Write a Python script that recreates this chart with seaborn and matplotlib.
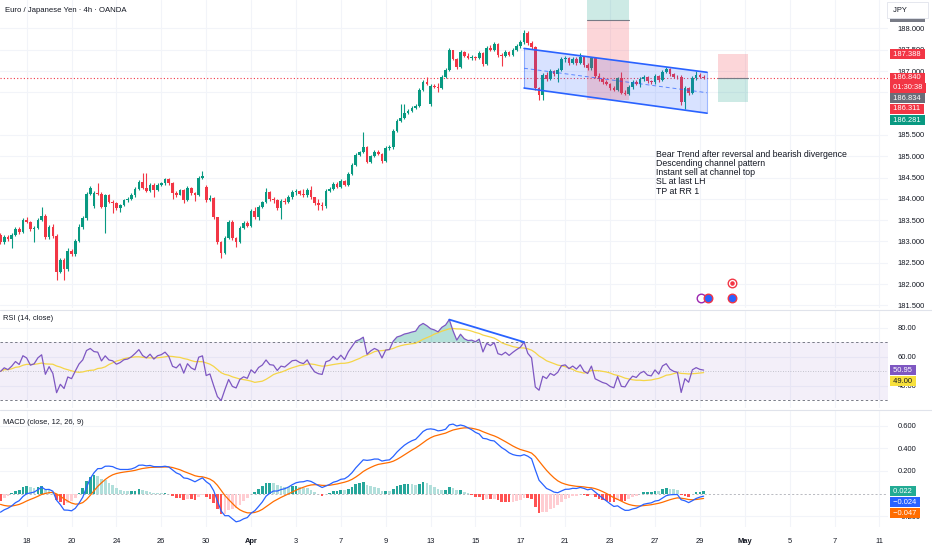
import matplotlib
matplotlib.use('Agg')
import matplotlib.pyplot as plt
import matplotlib.patches as mpatches
import seaborn as sns
import pandas as pd
import numpy as np

# ---- data (4h candles) ----
closes = [182.99, 183.10, 183.05, 183.15, 183.29, 183.22, 183.50, 183.45, 183.28, 183.32, 183.50, 183.60,
          183.10, 183.34, 183.13, 182.29, 182.57, 182.35, 182.78, 182.70, 183.01, 183.34, 183.55, 184.11,
          184.25, 184.14, 184.12, 183.81, 184.08, 183.93, 183.90, 183.78, 183.85, 183.97, 184.00, 184.09,
          184.23, 184.40, 184.25, 184.19, 184.33, 184.21, 184.33, 184.37, 184.46, 184.37, 184.14, 184.10,
          184.21, 183.98, 184.25, 184.14, 184.09, 184.49, 184.54, 183.97, 184.02, 183.57, 182.99, 182.73,
          183.08, 183.46, 183.08, 182.99, 183.32, 183.43, 183.36, 183.71, 183.57, 183.81, 183.92, 184.16,
          183.99, 183.97, 183.78, 183.95, 183.92, 184.04, 184.16, 184.18, 184.12, 184.09, 184.21, 184.04,
          183.90, 183.85, 183.83, 184.18, 184.22, 184.35, 184.28, 184.42, 184.33, 184.58, 184.79, 185.03,
          185.10, 185.22, 184.86, 185.00, 185.10, 185.06, 184.89, 185.19, 185.21, 185.59, 185.83, 185.90,
          186.01, 186.06, 186.13, 186.18, 186.55, 186.74, 186.70, 186.65, 186.63, 186.60, 186.86, 187.02,
          187.49, 187.28, 187.09, 187.45, 187.35, 187.31, 187.33, 187.30, 187.42, 187.16, 187.54, 187.49,
          187.63, 187.38, 187.35, 187.45, 187.38, 187.49, 187.59, 187.68, 187.89, 187.66, 187.56, 186.60,
          186.44, 186.91, 186.81, 187.00, 186.92, 187.03, 187.28, 187.31, 187.19, 187.28, 187.19, 187.33,
          187.14, 187.07, 187.30, 186.88, 186.81, 186.74, 186.70, 186.60, 186.55, 186.83, 186.48, 186.46,
          186.62, 186.74, 186.70, 186.81, 186.86, 186.76, 186.74, 186.88, 186.78, 186.98, 187.04, 186.92,
          186.87, 186.85, 186.27, 186.60, 186.48, 186.84, 186.91, 186.86, 186.84]

highs = [183.20, 183.14, 183.15, 183.19, 183.33, 183.33, 183.55, 183.58, 183.47, 183.36, 183.54, 183.81,
         183.64, 183.38, 183.40, 183.18, 182.62, 182.62, 182.85, 182.82, 183.05, 183.40, 183.60, 184.15,
         184.30, 184.18, 184.37, 184.16, 184.12, 184.12, 183.97, 183.93, 183.88, 184.00, 184.05, 184.13,
         184.27, 184.45, 184.60, 184.60, 184.36, 184.36, 184.36, 184.40, 184.50, 184.50, 184.40, 184.18,
         184.24, 184.22, 184.29, 184.28, 184.17, 184.53, 184.65, 184.32, 184.10, 184.04, 183.57, 183.00,
         183.12, 183.50, 183.50, 183.10, 183.36, 183.48, 183.48, 183.76, 183.80, 183.86, 183.96, 184.26,
         184.18, 184.04, 183.99, 184.00, 184.02, 184.08, 184.20, 184.24, 184.20, 184.23, 184.26, 184.30,
         184.05, 184.00, 183.92, 184.22, 184.27, 184.40, 184.40, 184.46, 184.45, 184.62, 184.83, 185.07,
         185.13, 185.57, 185.25, 185.04, 185.14, 185.15, 185.08, 185.23, 185.26, 185.63, 185.87, 186.23,
         186.23, 186.10, 186.17, 186.22, 186.59, 186.79, 186.86, 186.70, 186.70, 186.72, 186.90, 187.06,
         187.53, 187.50, 187.30, 187.49, 187.47, 187.42, 187.38, 187.36, 187.46, 187.45, 187.58, 187.60,
         187.67, 187.66, 187.43, 187.49, 187.47, 187.53, 187.63, 187.72, 187.96, 187.93, 187.70, 187.58,
         186.62, 186.95, 186.97, 187.04, 187.02, 187.07, 187.32, 187.36, 187.34, 187.32, 187.33, 187.42,
         187.34, 187.18, 187.34, 187.32, 186.95, 186.85, 186.78, 186.72, 186.64, 186.87, 186.97, 186.55,
         186.66, 186.78, 186.78, 186.85, 186.90, 186.88, 186.80, 186.92, 186.90, 187.02, 187.10, 187.08,
         186.95, 186.90, 186.90, 186.64, 186.62, 186.88, 187.00, 186.95, 186.90]

lows = [182.94, 182.93, 183.00, 182.84, 183.12, 183.18, 183.20, 183.43, 183.25, 182.99, 183.28, 183.48,
        183.06, 183.06, 183.08, 182.10, 182.25, 182.09, 182.30, 182.66, 182.65, 182.98, 183.30, 183.50,
        184.08, 183.78, 184.08, 183.78, 183.20, 183.90, 183.67, 183.74, 183.70, 183.83, 183.93, 183.97,
        184.05, 184.20, 184.22, 184.16, 184.16, 184.04, 184.18, 184.30, 184.33, 184.33, 183.99, 184.05,
        184.08, 183.90, 183.95, 184.10, 183.95, 184.06, 184.47, 183.93, 183.95, 183.53, 182.95, 182.61,
        182.70, 183.05, 183.04, 182.87, 182.96, 183.30, 183.33, 183.34, 183.52, 183.50, 183.78, 183.90,
        183.95, 183.90, 183.74, 183.53, 183.89, 183.90, 184.00, 184.10, 184.08, 184.05, 184.05, 184.00,
        183.86, 183.74, 183.74, 183.78, 184.15, 184.20, 184.25, 184.26, 184.30, 184.30, 184.55, 184.76,
        185.00, 185.08, 184.83, 184.85, 184.97, 185.02, 184.85, 184.86, 185.15, 185.17, 185.57, 185.80,
        185.88, 185.99, 186.04, 186.10, 186.16, 186.52, 186.66, 186.18, 186.60, 186.51, 186.58, 186.84,
        187.00, 187.25, 187.05, 187.07, 187.32, 187.28, 187.27, 187.26, 187.28, 187.12, 187.14, 187.46,
        187.47, 187.34, 187.12, 187.33, 187.35, 187.36, 187.46, 187.53, 187.64, 187.62, 187.52, 186.55,
        186.32, 186.32, 186.77, 186.79, 186.88, 186.74, 187.00, 187.22, 187.15, 187.16, 187.15, 187.17,
        187.10, 187.03, 187.03, 186.84, 186.77, 186.70, 186.66, 186.56, 186.52, 186.53, 186.45, 186.43,
        186.44, 186.58, 186.66, 186.62, 186.76, 186.72, 186.70, 186.70, 186.74, 186.76, 186.95, 186.88,
        186.83, 186.82, 186.20, 186.11, 186.44, 186.45, 186.80, 186.83, 186.81]

first_open = 183.15
gap_opens = {25: 183.83, 55: 184.28, 115: 186.22}   # weekend gaps

# indicator state at the left edge
rsi_seed_move = 0.08        # avg gain = avg loss -> RSI ~50 at first bar
macd_seed = -0.165
signal_seed = -0.096

date_labels = ['18', '20', '24', '26', '30', 'Apr', '3', '7', '9', '13', '15', '17',
               '21', '23', '27', '29', 'May', '5', '7', '11']
first_label_bar = 7
bars_per_label = 12

price_ticks = [181.5, 182.0, 182.5, 183.0, 183.5, 184.0, 184.5, 185.0, 185.5, 187.0, 187.5, 188.0]
rsi_ticks = [40, 60, 80]
macd_ticks = [-0.2, 0.2, 0.4, 0.6]

# drawings
channel_bars = [140.0, 188.9]
channel_upper = [187.53, 186.97]
channel_lower = [186.60, 186.01]
old_box_bars = [156.8, 168.0]
old_box = [189.5, 188.20, 186.32]          # target top, entry, stop
new_box_bars = [191.8, 199.9]
new_box = [187.388, 186.834, 186.281]      # stop, entry, target
last_price = 186.84
div_bars = [120, 140]

note = ("Bear Trend after reversal and bearish divergence\nDescending channel pattern\n"
        "Instant sell at channel top\nSL at last LH\nTP at RR 1")

# ---- indicators ----
df = pd.DataFrame({'close': closes, 'high': highs, 'low': lows})
df['bar'] = np.arange(len(df))
df['open'] = df['close'].shift(1)
df.loc[0, 'open'] = first_open
for k, v in gap_opens.items():
    df.loc[k, 'open'] = v
df['high'] = df[['high', 'open', 'close']].max(axis=1)
df['low'] = df[['low', 'open', 'close']].min(axis=1)


def ema(values, alpha, start):
    out = [start]
    for v in values[1:]:
        out.append(out[-1] + alpha * (v - out[-1]))
    return np.array(out)


delta = df['close'].diff().fillna(0).to_numpy()
ag = ema(np.clip(delta, 0, None), 1 / 14, rsi_seed_move)
al = ema(np.clip(-delta, 0, None), 1 / 14, rsi_seed_move)
df['rsi'] = 100 - 100 / (1 + ag / al)
df['rsi_ma'] = df['rsi'].rolling(14, min_periods=1).mean()

c = df['close'].to_numpy()
ema12 = ema(c, 2 / 13, c[0])
ema26 = ema(c, 2 / 27, c[0] - macd_seed)
df['macd'] = ema12 - ema26
df['signal'] = ema(df['macd'].to_numpy(), 2 / 10, signal_seed)
df['hist'] = df['macd'] - df['signal']

# ---- style ----
sns.set_style('white')
plt.rcParams['font.family'] = ['Liberation Sans', 'DejaVu Sans']
TXT = '#131722'
UP, DOWN = '#089981', '#F23645'
GRID = '#F2F4F9'
FS = 5.4

W, H = 932, 550
R = 888
fig = plt.figure(figsize=(W / 100, H / 100), dpi=100)


def pane(top, bottom):
    a = fig.add_axes([0, 1 - bottom / H, R / W, (bottom - top) / H])
    for s in a.spines.values():
        s.set_visible(False)
    a.set_xlim(-0.13, (R - 0.5) / 3.74)
    return a


ax = pane(0, 308)
ax_rsi = pane(311, 408)
ax_macd = pane(411, 527)

tick_pos = [first_label_bar + bars_per_label * k for k in range(len(date_labels))]
for a in (ax, ax_rsi, ax_macd):
    for t in tick_pos:
        a.axvline(t, color=GRID, lw=0.8, zorder=0)
    a.yaxis.tick_right()
    a.tick_params(axis='y', length=0, pad=7, labelsize=FS, labelcolor=TXT)
    a.set_xticks(tick_pos)
    a.tick_params(axis='x', length=0, labelbottom=False)

# ---- price pane ----
ax.set_ylim(181.437, 188.667)
ax.set_yticks(price_ticks)
ax.set_yticklabels([f'{v:.3f}' for v in price_ticks])
for v in price_ticks + [186.5]:
    ax.axhline(v, color=GRID, lw=0.8, zorder=0)

up = df['close'] >= df['open']
cols = np.where(up, UP, DOWN)
ax.vlines(df['bar'], df['low'], df['high'], colors=cols, lw=0.8, zorder=3)
body = (df['close'] - df['open']).abs().clip(lower=0.012)
ax.bar(df['bar'], body, bottom=df[['open', 'close']].min(axis=1), width=0.72,
       color=cols, linewidth=0, zorder=3)

ax.axhline(last_price, color=DOWN, ls=(0, (1, 2)), lw=0.8, zorder=2)

# channel
poly = [(channel_bars[0], channel_upper[0]), (channel_bars[1], channel_upper[1]),
        (channel_bars[1], channel_lower[1]), (channel_bars[0], channel_lower[0])]
ax.add_patch(mpatches.Polygon(poly, closed=True, fc='#2962FF', alpha=0.18, ec='none', zorder=4))
ax.plot(channel_bars, channel_upper, color='#2962FF', lw=1.2, zorder=5)
ax.plot(channel_bars, channel_lower, color='#2962FF', lw=1.2, zorder=5)
for i in (0, 1):
    ax.plot([channel_bars[i]] * 2, [channel_lower[i], channel_upper[i]],
            color='#2962FF', lw=0.8, alpha=0.45, zorder=5)
ax.plot(channel_bars, [(u + l) / 2 for u, l in zip(channel_upper, channel_lower)],
        color='#2962FF', lw=0.7, ls=(0, (4, 3)), alpha=0.7, zorder=5)

# position boxes
b0, b1 = old_box_bars
ax.add_patch(mpatches.Rectangle((b0, old_box[1]), b1 - b0, old_box[0] - old_box[1],
                                fc=UP, alpha=0.2, ec='none', zorder=4))
ax.add_patch(mpatches.Rectangle((b0, old_box[2]), b1 - b0, old_box[1] - old_box[2],
                                fc=DOWN, alpha=0.2, ec='none', zorder=4))
ax.plot(old_box_bars, [old_box[1]] * 2, color='#787B86', lw=0.8, zorder=5)
b0, b1 = new_box_bars
ax.add_patch(mpatches.Rectangle((b0, new_box[1]), b1 - b0, new_box[0] - new_box[1],
                                fc=DOWN, alpha=0.2, ec='none', zorder=4))
ax.add_patch(mpatches.Rectangle((b0, new_box[2]), b1 - b0, new_box[1] - new_box[2],
                                fc=UP, alpha=0.2, ec='none', zorder=4))
ax.plot(new_box_bars, [new_box[1]] * 2, color='#787B86', lw=0.8, zorder=5)

ax.text(175.3, 185.15, note, fontsize=6.35, color=TXT, va='top', ha='left', linespacing=1.03, zorder=6)

# event markers
ax.scatter([187.3], [181.67], s=38, facecolor='white', edgecolor='#9C27B0', lw=1.0, zorder=6)
ax.scatter([189.3, 195.6], [181.67, 181.67], s=38, facecolor='#2962FF', edgecolor=DOWN, lw=1.0, zorder=7)
ax.scatter([195.6], [182.02], s=38, facecolor='white', edgecolor=DOWN, lw=1.0, zorder=7)
ax.scatter([195.6], [182.02], s=5, facecolor=DOWN, zorder=8)

ax.text(5 / R, 1 - 10 / 308, 'Euro / Japanese Yen · 4h · OANDA', transform=ax.transAxes,
        fontsize=5.6, color=TXT, va='center')


def tag(a, value, text, fc, tc='white', dy=0):
    a.annotate(' ' + text + ' ', xy=(1, value), xycoords=a.get_yaxis_transform(),
               xytext=(2.5, -dy * 0.72), textcoords='offset points',
               ha='left', va='center', fontsize=FS, color=tc,
               bbox=dict(boxstyle='square,pad=0.2', fc=fc, ec='none'),
               annotation_clip=False, zorder=10)


tag(ax, 188.27, '188.201', '#787B86')
ax.annotate(' JPY        ', xy=(1, 188.43), xycoords=ax.get_yaxis_transform(),
            xytext=(2.5, 0), textcoords='offset points', ha='left', va='center',
            fontsize=FS, color=TXT, annotation_clip=False, zorder=11,
            bbox=dict(boxstyle='square,pad=0.55', fc='white', ec='#E0E3EB', lw=0.6))
tag(ax, new_box[0], '187.388', DOWN)
tag(ax, last_price, '186.840', DOWN)
tag(ax, last_price, '01:30:38', DOWN, dy=10)
tag(ax, new_box[1], '186.834', '#6A6D78', dy=20)
tag(ax, 186.311, '186.311', DOWN, dy=8.6)
tag(ax, new_box[2], '186.281', UP, dy=18.4)

# ---- RSI pane ----
ax_rsi.set_ylim(24.8, 91.7)
ax_rsi.set_yticks(rsi_ticks)
ax_rsi.set_yticklabels([f'{v:.2f}' for v in rsi_ticks])
for v in rsi_ticks:
    ax_rsi.axhline(v, color=GRID, lw=0.8, zorder=0)
ax_rsi.axhspan(30, 70, color='#7E57C2', alpha=0.09, lw=0, zorder=0)
ax_rsi.axhline(70, color='#787B86', ls=(0, (2.5, 2.5)), lw=0.7)
ax_rsi.axhline(30, color='#787B86', ls=(0, (2.5, 2.5)), lw=0.7)
ax_rsi.axhline(50, color='#787B86', ls=(0, (1, 2)), lw=0.6, alpha=0.5)
ax_rsi.fill_between(df['bar'], 70, df['rsi'], where=df['rsi'] > 70, interpolate=True,
                    color=UP, alpha=0.3, lw=0)
ax_rsi.fill_between(df['bar'], 30, df['rsi'], where=df['rsi'] < 30, interpolate=True,
                    color=DOWN, alpha=0.3, lw=0)
sns.lineplot(data=df, x='bar', y='rsi_ma', ax=ax_rsi, color='#F5D547', lw=0.9)
sns.lineplot(data=df, x='bar', y='rsi', ax=ax_rsi, color='#7E57C2', lw=0.9)
ax_rsi.plot(div_bars, [df['rsi'].iloc[div_bars[0] - 2:div_bars[0] + 3].max(), df['rsi'].iloc[div_bars[1]]],
            color='#2962FF', lw=1.3, zorder=5)
ax_rsi.set_xlabel('')
ax_rsi.set_ylabel('')
ax_rsi.text(3 / R, 1 - 8 / 97, 'RSI (14, close)', transform=ax_rsi.transAxes,
            fontsize=FS, color=TXT, va='center')
tag(ax_rsi, 50.95, '50.95', '#7E57C2')
tag(ax_rsi, 50.95, '49.00', '#F7E03C', tc=TXT, dy=11)

# ---- MACD pane ----
ax_macd.set_ylim(-0.296, 0.730)
ax_macd.set_yticks(macd_ticks)
ax_macd.set_yticklabels([f'{v:.3f}'.replace('-', '\u2212') for v in macd_ticks])
for v in macd_ticks:
    ax_macd.axhline(v, color=GRID, lw=0.8, zorder=0)
ax_macd.axhline(0, color='#787B86', ls=(0, (2.5, 2.5)), lw=0.6, alpha=0.6)
h = df['hist']
hp = h.shift(1).fillna(0)
hcol = np.where(h >= 0, np.where(h > hp, '#26A69A', '#B2DFDB'),
                np.where(h > hp, '#FFCDD2', '#FF5252'))
ax_macd.bar(df['bar'], h, width=0.72, color=hcol, linewidth=0, zorder=2)
sns.lineplot(data=df, x='bar', y='signal', ax=ax_macd, color='#FF6D00', lw=0.9)
sns.lineplot(data=df, x='bar', y='macd', ax=ax_macd, color='#2962FF', lw=0.9)
ax_macd.set_xlabel('')
ax_macd.set_ylabel('')
ax_macd.text(3 / R, 1 - 11 / 116, 'MACD (close, 12, 26, 9)', transform=ax_macd.transAxes,
             fontsize=FS, color=TXT, va='center')
tag(ax_macd, 0.022, '0.022', '#22AB94')
tag(ax_macd, 0.022, '\u22120.024', '#2962FF', dy=11)
tag(ax_macd, 0.022, '\u22120.047', '#FF6D00', dy=22)

# date labels
ax_macd.tick_params(axis='x', labelbottom=True, pad=8, labelsize=FS, labelcolor=TXT)
ax_macd.set_xticklabels(date_labels)
for lab in ax_macd.get_xticklabels():
    if lab.get_text() in ('Apr', 'May'):
        lab.set_fontweight('bold')

# pane separators
for yy in (309.5, 409.5):
    fig.add_artist(plt.Line2D([0, 1], [1 - yy / H] * 2, color='#E0E3EB', lw=0.8))

plt.savefig('out.png', dpi=100)
